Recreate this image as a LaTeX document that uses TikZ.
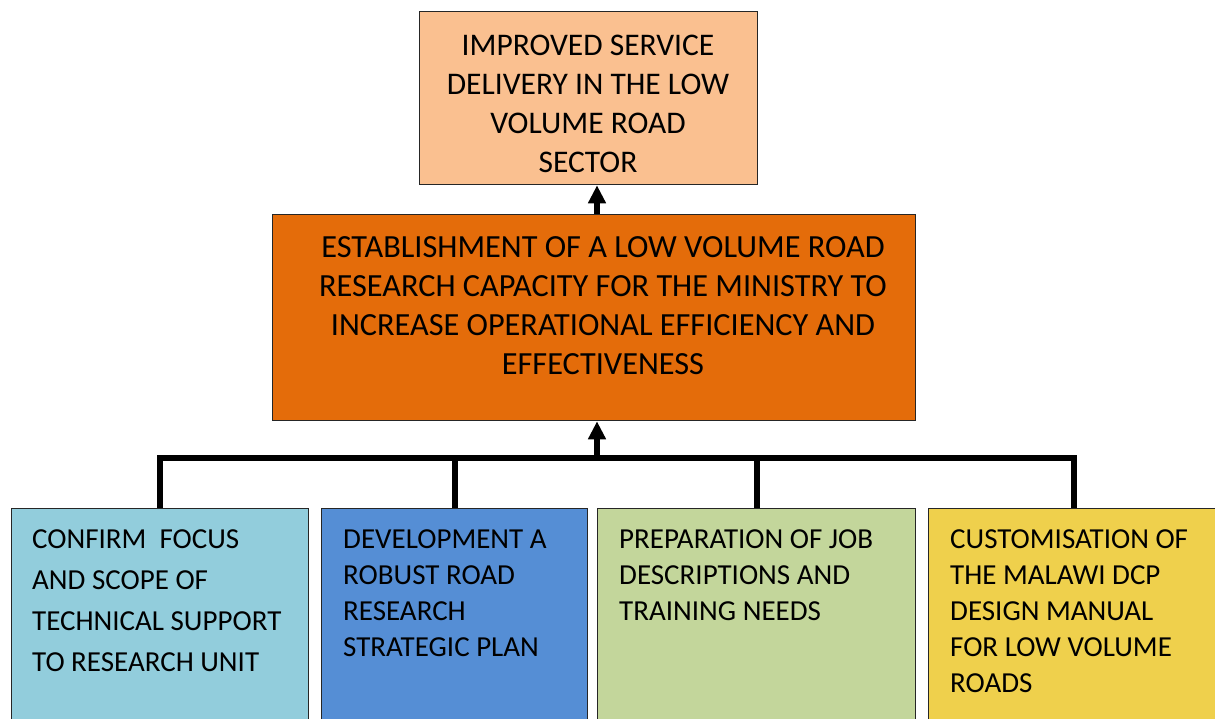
\documentclass[tikz,border=0pt]{standalone}
\usepackage{fontspec}
\setmainfont{Carlito}
\usetikzlibrary{arrows.meta, positioning}

\definecolor{goalfill}{HTML}{FAC090}
\definecolor{purposefill}{HTML}{E46C0A}
\definecolor{focusfill}{HTML}{92CDDC}
\definecolor{planfill}{HTML}{558ED5}
\definecolor{jobsfill}{HTML}{C3D69B}
\definecolor{manualfill}{HTML}{EFD04C}

\begin{document}
\begin{tikzpicture}[x=1pt, y=-1pt,
    % Define the style of the coloured boxes
    box/.style={draw=black!85, line width=1.3pt, inner sep=0pt, anchor=north west},
    % Define the style of the centred box texts
    toptext/.style={inner sep=0pt, anchor=north, align=center,
      font=\fontsize{31.5}{39}\selectfont},
    % Define the style of the output box texts
    outtext/.style={inner sep=0pt, anchor=north west, align=left,
      font=\fontsize{29}{36}\selectfont},
    % Define the style of the tree lines and arrows
    link/.style={line width=6pt, black},
    arrow/.style={link, -{Triangle[length=18pt, width=17pt]}}
  ]
  \useasboundingbox (0,0) rectangle (1215,718);
  \clip (0,0) rectangle (1215,718);

  % Goal box
  \node[box, fill=goalfill, minimum width=338pt, minimum height=173pt] (goal) at (419,11) {};
  \node[toptext] (goaltext) at (588,35)
    {IMPROVED SERVICE\\DELIVERY IN THE LOW\\VOLUME ROAD\\SECTOR};

  % Purpose box
  \node[box, fill=purposefill, minimum width=643pt, minimum height=206pt] (purpose) at (272,214) {};
  \node[toptext, font=\fontsize{32.3}{39}\selectfont] (purposetext) at (603,236)
    {ESTABLISHMENT OF A LOW VOLUME ROAD\\RESEARCH CAPACITY FOR THE MINISTRY TO\\INCREASE OPERATIONAL EFFICIENCY AND\\EFFECTIVENESS};

  % Output boxes
  \foreach \n/\x/\w/\col in {1/11/297/focusfill, 2/321/266/planfill,
                             3/597/318/jobsfill, 4/928/290/manualfill} {
    \node[box, fill=\col, minimum width=\w pt, minimum height=240pt] (out\n) at (\x,508) {};
  }
  \node[outtext, font=\fontsize{29}{41}\selectfont] (outtext1) at (32,529)
    {CONFIRM\ \ FOCUS\\AND SCOPE OF\\TECHNICAL SUPPORT\\TO RESEARCH UNIT};
  \node[outtext] (outtext2) at (343,529)
    {DEVELOPMENT A\\ROBUST ROAD\\RESEARCH\\STRATEGIC PLAN};
  \node[outtext] (outtext3) at (619,529)
    {PREPARATION OF JOB\\DESCRIPTIONS AND\\TRAINING NEEDS};
  \node[outtext] (outtext4) at (950,529)
    {CUSTOMISATION OF\\THE MALAWI DCP\\DESIGN MANUAL\\FOR LOW VOLUME\\ROADS};

  % Connect the nodes
  \coordinate (hub) at (597,458);
  \draw[link] (out1.north) -- (out1.north |- hub) -- (out4.north |- hub) -- (out4.north);
  \foreach \n in {2, 3} {
    \draw[link] (out\n.north) -- (out\n.north |- hub);
  }
  \draw[arrow] (hub) -- (hub |- purpose.south);
  \draw[arrow] (purpose.north -| hub) -- (goal.south -| hub);
\end{tikzpicture}
\end{document}
